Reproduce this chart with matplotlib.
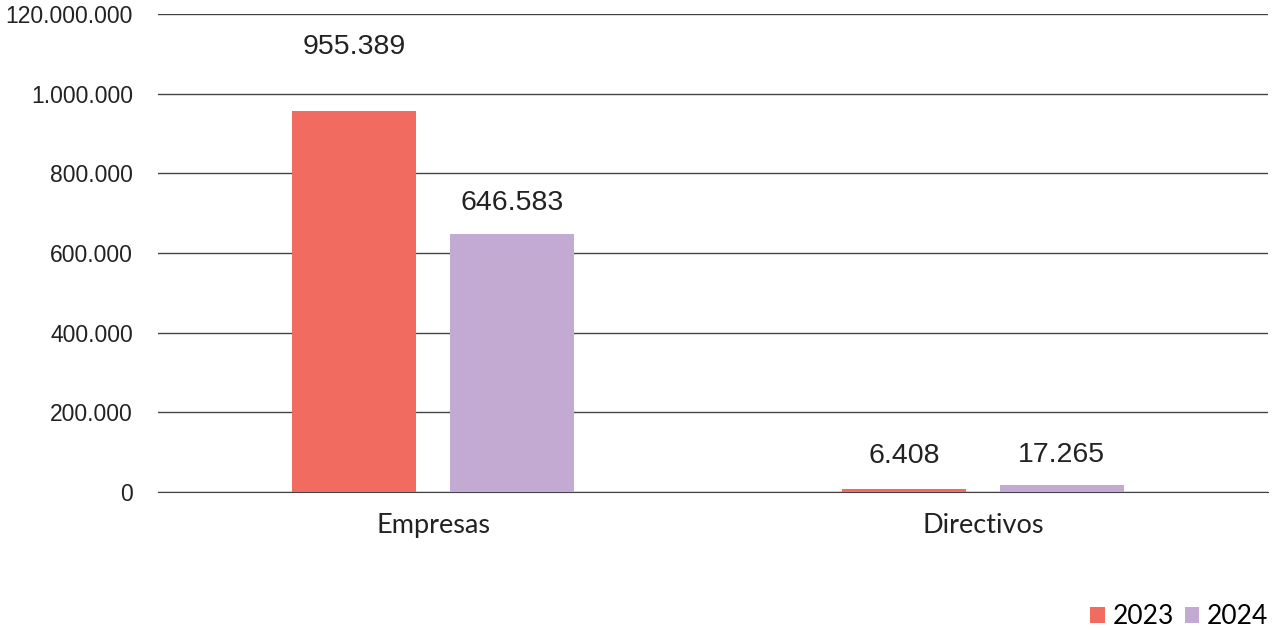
import numpy as np
import matplotlib
matplotlib.use("Agg")
import matplotlib.pyplot as plt

categories = ["Empresas", "Directivos"]
years = ["2023", "2024"]
values_2023 = [955389, 6408]
values_2024 = [646583, 17265]
value_labels_2023 = ["955.389", "6.408"]
value_labels_2024 = ["646.583", "17.265"]
y_ticks = [0, 200000, 400000, 600000, 800000, 1000000, 1200000]
y_tick_labels = ["0", "200.000", "400.000", "600.000", "800.000", "1.000.000", "120.000.000"]

colors = ["#F26B60", "#C3AAD3"]

fig = plt.figure(figsize=(12.78, 6.30), dpi=100)
ax = fig.add_axes([158 / 1278, 1 - 492 / 630, 1110 / 1278, 478 / 630])

x = np.arange(len(categories))
w = 0.2255
off = 0.143
b1 = ax.bar(x - off, values_2023, w, color=colors[0], label=years[0], zorder=3)
b2 = ax.bar(x + off, values_2024, w, color=colors[1], label=years[1], zorder=3)

# label gaps above bar tops (points), as placed in the original
gaps = {("2023", 0): 37, ("2023", 1): 15, ("2024", 0): 13, ("2024", 1): 12.5}
for yr, bars, labs in (("2023", b1, value_labels_2023), ("2024", b2, value_labels_2024)):
    for i, (r, t) in enumerate(zip(bars, labs)):
        ax.annotate(t, (r.get_x() + r.get_width() / 2, r.get_height()),
                    xytext=(0, gaps[(yr, i)]), textcoords="offset points",
                    ha="center", va="bottom", fontsize=20.5,
                    family="Liberation Sans", color="#222222")

ax.set_xlim(-0.5, 1.518)
ax.set_ylim(0, 1200000)
ax.set_yticks(y_ticks)
ax.set_yticklabels(y_tick_labels, family="Liberation Sans", fontsize=16.5, color="#222222")
ax.set_xticks(x)
ax.set_xticklabels(categories, family="Lato", fontsize=19.5, color="#222222")
ax.tick_params(axis="both", length=0)
ax.tick_params(axis="y", pad=18)
ax.tick_params(axis="x", pad=15)
ax.grid(axis="y", color="#444444", linewidth=1, zorder=0)
for s in ["top", "right", "left"]:
    ax.spines[s].set_visible(False)
ax.spines["bottom"].set_color("#444444")

fig.legend(loc="lower right", bbox_to_anchor=(1.004, -0.022), ncol=2, frameon=False,
           prop={"family": "Lato", "size": 19}, handlelength=0.55, handleheight=0.55,
           handletextpad=0.3, columnspacing=0.4, borderaxespad=0.15)

fig.savefig("out.png", dpi=100)
